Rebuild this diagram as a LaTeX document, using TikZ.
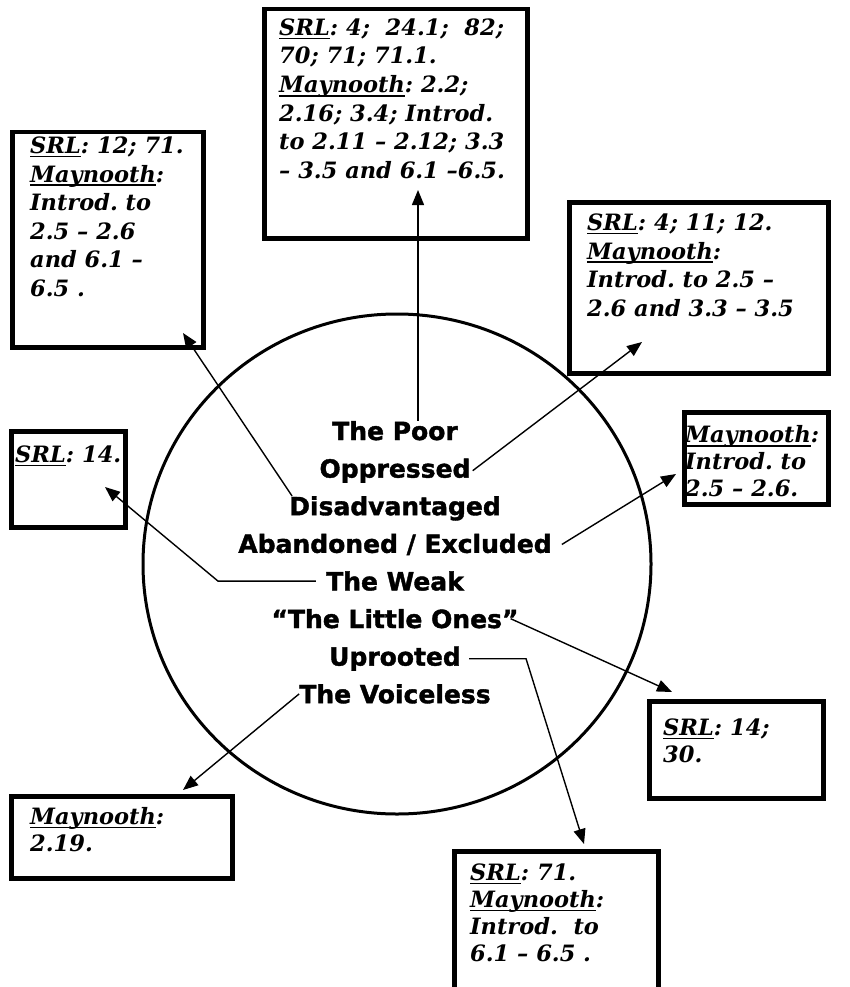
\documentclass[tikz,border=0pt]{standalone}
\usepackage{fontspec}
\setmainfont{DejaVu Serif}
\newfontfamily\corefont{DejaVu Sans}[BoldFeatures={FakeBold=1.5}]
\usetikzlibrary{arrows.meta}
\frenchspacing

% underline that sits just under the baseline
\newcommand\refline[1]{\setbox0\hbox{#1}\rlap{\rule[-4pt]{\wd0}{1.6pt}}\box0}

\tikzset{
  frame/.style={draw, line width=4.5pt, anchor=north west, inner sep=0pt},
  note/.style={anchor=north west, align=left, inner sep=0pt,
    font=\fontsize{22.5}{28.6}\selectfont\bfseries\itshape},
  tightnote/.style={note, font=\fontsize{22.5}{27}\selectfont\bfseries\itshape},
  core/.style={anchor=base, inner sep=0pt,
    font=\corefont\fontsize{25}{37.6}\selectfont\bfseries},
  link/.style={line width=1.4pt, -{Triangle[length=15pt,width=12pt]}},
}

\begin{document}
\begin{tikzpicture}[x=1pt,y=-1pt]
    \clip (0,0) rectangle (850,987);

    % Centre ring
    \draw[line width=3pt] (397,564) ellipse [x radius=254, y radius=250];

    \node[core] (poor)      at (395,440)   {The Poor};
    \node[core] (oppressed) at (395,477.6) {Oppressed};
    \node[core] (disadv)    at (395,515.2) {Disadvantaged};
    \node[core] (abandoned) at (395,552.8) {Abandoned / Excluded};
    \node[core] (weak)      at (395,590.4) {The Weak};
    \node[core] (little)    at (395,628)   {“The Little Ones”};
    \node[core] (uprooted)  at (395,665.6) {Uprooted};
    \node[core] (voiceless) at (395,703.2) {The Voiceless};

    % Reference boxes
    \node[frame, minimum width=263pt, minimum height=229pt] (boxTop) at (262,7) {};
    \node[note] (txtTop) at (279,18.5) {\refline{SRL}: 4;\ \ 24.1;\ \ 82;\\ 70; 71; 71.1.\\
      \refline{Maynooth}: 2.2;\\ 2.16; 3.4; Introd.\\ to 2.11 – 2.12; 3.3\\ – 3.5 and 6.1 –6.5.};

    \node[frame, minimum width=191pt, minimum height=215pt] (boxUL) at (10,130) {};
    \node[note] (txtUL) at (30,136.5) {\refline{SRL}: 12; 71.\\ \refline{Maynooth}:\\
      Introd. to\\ 2.5 – 2.6\\ and 6.1 –\\ 6.5 .};

    \node[frame, minimum width=259pt, minimum height=171pt] (boxUR) at (567,200) {};
    \node[note] (txtUR) at (587,213.5) {\refline{SRL}: 4; 11; 12.\\ \refline{Maynooth}:\\
      Introd. to 2.5 –\\ 2.6 and 3.3 – 3.5};

    \node[frame, minimum width=114pt, minimum height=96pt] (boxW) at (9,429) {};
    \node[note] (txtW) at (15,445.5) {\refline{SRL}: 14.};

    \node[frame, minimum width=144pt, minimum height=92pt] (boxR) at (682,410) {};
    \node[tightnote] (txtR) at (685,425.5) {\refline{Maynooth}:\\ Introd. to\\ 2.5 – 2.6.};

    \node[frame, minimum width=174pt, minimum height=97pt] (boxLO) at (647,699) {};
    \node[tightnote] (txtLO) at (663,718.5) {\refline{SRL}: 14;\\ 30.};

    \node[frame, minimum width=221pt, minimum height=82pt] (boxLL) at (9,794) {};
    \node[tightnote] (txtLL) at (30,807) {\refline{Maynooth}:\\ 2.19.};

    \node[frame, minimum width=204pt, minimum height=170pt] (boxBot) at (452,849) {};
    \node[tightnote] (txtBot) at (470,863.5) {\refline{SRL}: 71.\\ \refline{Maynooth}:\\
      Introd.\ \ to\\ 6.1 – 6.5 .};

    % Arrows out of the ring
    \coordinate (tipTop) at (418,190);
    \draw[link] (tipTop |- poor.north) -- (tipTop);

    \coordinate (tipUL) at (183,333);
    \draw[link] ([xshift=3pt]disadv.north west) -- (tipUL);

    \coordinate (tipUR) at (642,342);
    \draw[link] ([xshift=2pt]oppressed.east) -- (tipUR);

    \coordinate (tipR) at (676,474);
    \draw[link] ([xshift=10pt]abandoned.east) -- (tipR);

    \coordinate (tipW) at (105,487);
    \draw[link] ([xshift=-10pt]weak.west) -- ++(-98,0) -- (tipW);

    \coordinate (tipLO) at (672,692);
    \draw[link] ([xshift=-8pt]little.east) -- (tipLO);

    \coordinate (tipBot) at (584,844);
    \draw[link] ([xshift=8pt]uprooted.east) -- ++(57,0) -- (tipBot);

    \coordinate (tipLL) at (183,790);
    \draw[link] (voiceless.west) -- (tipLL);
\end{tikzpicture}
\end{document}
